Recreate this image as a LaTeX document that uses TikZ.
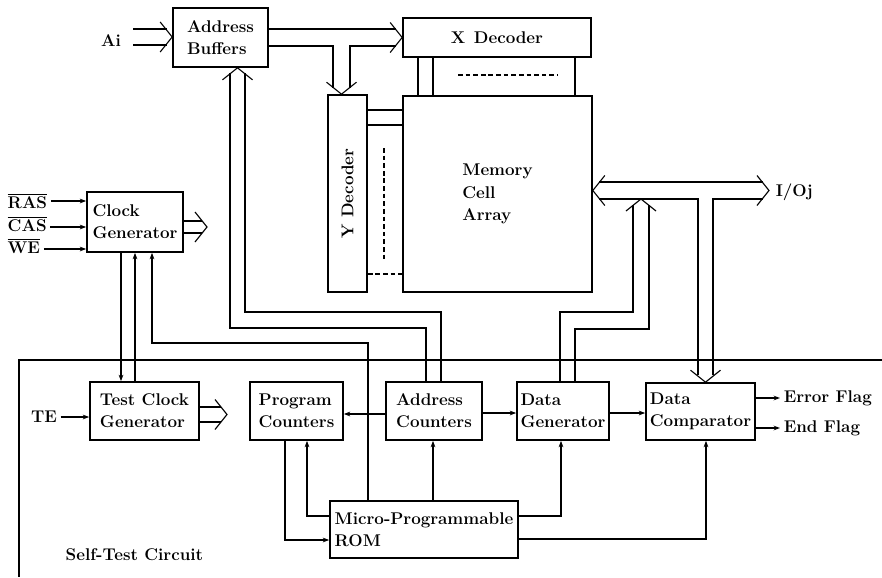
\documentclass[tikz,border=0pt]{standalone}
\usepackage{tikz}
\usetikzlibrary{arrows.meta,calc}
\newcommand{\blkfont}{\fontsize{14.5}{19}\selectfont\bfseries}
\tikzset{
  blk/.style 2 args={draw, line width=1.4pt, minimum width=#1*0.03cm,
    minimum height=#2*0.03cm, inner sep=1pt, align=left, font=\blkfont},
  lbl/.style={inner sep=3pt, font=\blkfont},
  wire/.style={line width=.95pt},
  dashline/.style={wire, dash pattern=on 4pt off 2.5pt},
  sig/.style={wire, -{Stealth[length=5.5pt,width=4pt]}},
  chev/.pic={\draw[wire] (-12,-15) -- (0,0) -- (-12,15);},
}

\begin{document}
\begin{tikzpicture}[x=0.03cm, y=-0.03cm]
\useasboundingbox (0,0) rectangle (882,577);

% Blocks
\node[blk={95}{59}]   (AB)  at (220.5,37.5)  {Address\\Buffers};
\node[blk={188}{39}]  (XD)  at (497,37.5)    {X\hspace{.5em}Decoder};
\node[blk={39}{197}]  (YD)  at (347.5,193.5) {};
\node[lbl, rotate=90] (YDt) at (YD.center)   {Y Decoder};
\node[blk={189}{196}] (MEM) at (497.5,194)   {Memory\\Cell\\Array};
\node[blk={96}{60}]   (CG)  at (135,222)     {Clock\\Generator};
\node[blk={109}{58}]  (TCG) at (144.5,411)   {Test Clock\\Generator};
\node[blk={93}{58}]   (PC)  at (296.5,411)   {Program\\Counters};
\node[blk={96}{58}]   (AC)  at (434,411)     {Address\\Counters};
\node[blk={92}{58}]   (DG)  at (563,411)     {Data\\Generator};
\node[blk={109}{57}]  (DC)  at (700.5,411.5) {Data\\Comparator};
\node[blk={188}{57}]  (ROM) at (424,529.5)   {Micro-Programmable\\ROM};

% Signal names
\node[lbl] (Ai) at (111,41) {Ai};
\node[lbl, anchor=base west] (RAS) at (4,208) {$\overline{\mbox{\bfseries RAS}}$};
\node[lbl, anchor=base west] (CAS) at (4,231) {$\overline{\mbox{\bfseries CAS}}$};
\node[lbl, anchor=base west] (WE)  at (4,253) {$\overline{\mbox{\bfseries WE}}$};
\node[lbl] (TE) at (44,417) {TE};
\node[lbl, anchor=west] (IO)  at (772,192) {I/Oj};
\node[lbl, anchor=west] (EF)  at (780,398) {Error Flag};
\node[lbl, anchor=west] (ENF) at (780,428) {End Flag};
\node[lbl, anchor=west] (STC) at (62,555)  {Self-Test Circuit};

% Self-test frame
\draw[line width=1.1pt] (882,360) -- (19,360) -- (19,577);

% Ai bus
\draw[wire] (133,29) -- (167,29) (133,45) -- (167,45);
\pic at (AB.west |- 0,37) {chev};

% Address buffers -> X / Y decoder
\draw[wire] (AB.east |- 0,29) -- (396,29);
\draw[wire] (AB.east |- 0,46) -| (333,88);
\draw[wire] (350,88) |- (396,46);
\pic at (XD.west |- 0,37.5) {chev};
\pic[rotate=-90] at (YD.north -| 341.5,0) {chev};

% decoders -> memory
\draw[wire] (XD.south -| 418,0) -- (MEM.north -| 418,0)
            (XD.south -| 433,0) -- (MEM.north -| 433,0)
            (XD.south -| 575,0) -- (MEM.north -| 575,0);
\draw[dashline] (458,75) -- (558,75);
\draw[wire] (YD.east |- 0,110) -- (MEM.west |- 0,110)
            (YD.east |- 0,125) -- (MEM.west |- 0,125);
\draw[dashline] (YD.east |- 0,274) -- (MEM.west |- 0,274);
\draw[dashline] (384,148) -- (384,260);

% Memory <-> I/O bus
\pic[rotate=180] at (MEM.east |- 0,190.5) {chev};
\pic at (769,190.5) {chev};
\draw[wire] (599,182) -- (763,182);
\draw[wire] (599,199) -- (698,199) -- (698,375);
\draw[wire] (713,375) -- (713,199) -- (763,199);
\pic[rotate=-90] at (DC.north -| 705.5,0) {chev};

% Data generator -> I/O bus
\pic[rotate=90] at (641,199) {chev};
\draw[wire] (DG.north -| 560,0) |- (633,312) -- (633,205);
\draw[wire] (DG.north -| 575,0) |- (649,329) -- (649,205);

% Address counters -> address buffers
\pic[rotate=90] at (AB.south -| 237.5,0) {chev};
\draw[wire] (AC.north -| 441,0) |- (245,312) -- (245,73);
\draw[wire] (AC.north -| 426,0) |- (230,328) -- (230,73);

% clock outputs
\draw[wire] (CG.east |- 0,221) -- (202,221) (CG.east |- 0,233) -- (202,233);
\pic at (207,227) {chev};
\draw[wire] (TCG.east |- 0,407) -- (221,407) (TCG.east |- 0,422) -- (221,422);
\pic at (227,414.5) {chev};

% control signals
\draw[sig] (RAS.east |- 0,201) -- (CG.west |- 0,201);
\draw[sig] (CAS.east |- 0,227) -- (CG.west |- 0,227);
\draw[sig] (WE.east |- 0,249) -- (CG.west |- 0,249);
\draw[sig] (TE.east) -- (TCG.west |- TE);
\draw[sig] (CG.south -| 121,0) -- (TCG.north -| 121,0);
\draw[sig] (TCG.north -| 135,0) -- (CG.south -| 135,0);
\draw[sig] (ROM.north -| 368,0) |- (152,343) -- (CG.south -| 152,0);

\draw[sig] (AC.west |- 0,414) -- (PC.east |- 0,414);
\draw[sig] (AC.east |- 0,413) -- (DG.west |- 0,413);
\draw[sig] (DG.east |- 0,413) -- (DC.west |- 0,413);
\draw[sig] (DC.east |- EF) -- (EF.west);
\draw[sig] (DC.east |- ENF) -- (ENF.west);

% micro-programmable ROM
\draw[sig] (PC.south -| 285,0) |- (ROM.west |- 0,540);
\draw[sig] (ROM.west |- 0,516) -| (PC.south -| 307,0);
\draw[sig] (ROM.north -| 433,0) -- (AC.south -| 433,0);
\draw[sig] (ROM.east |- 0,516) -| (DG.south -| 561,0);
\draw[sig] (ROM.east |- 0,539) -| (DC.south -| 706,0);

\end{tikzpicture}
\end{document}
